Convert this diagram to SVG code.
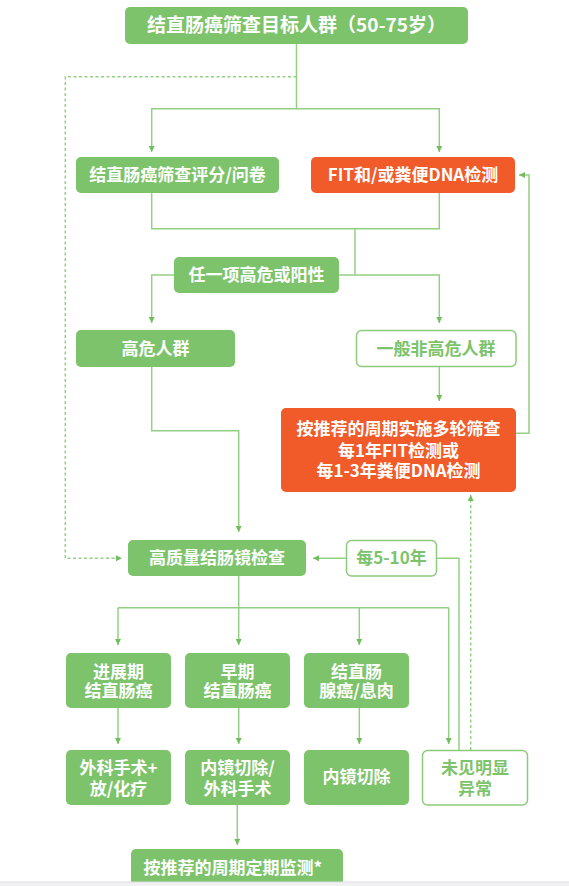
<svg xmlns="http://www.w3.org/2000/svg" width="569" height="886" viewBox="0 0 569 886">
<defs>
<style>
.g{fill:#7DC36B;}
.o{fill:#F15A29;}
.w{fill:#ffffff;stroke:#8DCB7B;stroke-width:1.5;}
.t{font-family:"Noto Sans CJK SC","Noto Sans",sans-serif;font-size:17px;font-weight:700;fill:#ffffff;text-anchor:middle;}
.tg{fill:#7DC36B;}
.big{font-size:19px;}
.c{fill:none;stroke:#93D083;stroke-width:1.5;}
.d{stroke-dasharray:3 2.5;}
</style>
<marker id="ah" markerUnits="userSpaceOnUse" markerWidth="7" markerHeight="7" refX="6" refY="3" orient="auto">
<path d="M0,0 L6,3 L0,6 z" fill="#72BE5E"/>
</marker>
</defs>
<rect width="569" height="886" fill="#ffffff"/>

<g id="connectors">
<path class="c" d="M296.5,44 V108.7 H151.7 V152" marker-end="url(#ah)"/>
<path class="c" d="M296.5,108.7 H439.3 V152" marker-end="url(#ah)"/>
<path class="c d" d="M296.5,76.7 H65.3 V558.3 H122" marker-end="url(#ah)"/>
<path class="c" d="M151.7,193 V228.7 H439.3 V193"/>
<path class="c" d="M355,228.7 V275"/>
<path class="c" d="M174,275 H151.7 V323" marker-end="url(#ah)"/>
<path class="c" d="M339,275 H439.3 V323" marker-end="url(#ah)"/>
<path class="c" d="M439.3,367 V401" marker-end="url(#ah)"/>
<path class="c" d="M516,433.3 H529 V175 H519" marker-end="url(#ah)"/>
<path class="c" d="M151.7,367 V430.7 H238.7 V532" marker-end="url(#ah)"/>
<path class="c" d="M346,558.3 H313" marker-end="url(#ah)"/>
<path class="c" d="M437,558.3 H459 V750"/>
<path class="c d" d="M470.7,750 V495" marker-end="url(#ah)"/>
<path class="c" d="M238.7,576 V607.7"/>
<path class="c" d="M118,607.7 H448.7"/>
<path class="c" d="M118,607.7 V645" marker-end="url(#ah)"/>
<path class="c" d="M238.7,607.7 V645" marker-end="url(#ah)"/>
<path class="c" d="M359.3,607.7 V645" marker-end="url(#ah)"/>
<path class="c" d="M448.7,607.7 V744" marker-end="url(#ah)"/>
<path class="c" d="M118,708 V744" marker-end="url(#ah)"/>
<path class="c" d="M238.7,708 V744" marker-end="url(#ah)"/>
<path class="c" d="M359.3,708 V744" marker-end="url(#ah)"/>
<path class="c" d="M237.3,805 V845" marker-end="url(#ah)"/>
</g>

<g id="n-target">
<rect class="g" x="125" y="7" width="343" height="37" rx="5"/>
<text class="t big" x="296.5" y="32">结直肠癌筛查目标人群（50-75岁）</text>
</g>
<g id="n-score">
<rect class="g" x="76" y="157" width="203" height="36" rx="5"/>
<text class="t" x="177.5" y="181">结直肠癌筛查评分/问卷</text>
</g>
<g id="n-fit">
<rect class="o" x="311" y="157" width="204" height="36" rx="5"/>
<text class="t" x="413" y="181">FIT和/或粪便DNA检测</text>
</g>
<g id="n-any">
<rect class="g" x="174" y="257" width="165" height="36" rx="5"/>
<text class="t" x="256.5" y="281">任一项高危或阳性</text>
</g>
<g id="n-high">
<rect class="g" x="76" y="330" width="159" height="37" rx="5"/>
<text class="t" x="155.5" y="354.5">高危人群</text>
</g>
<g id="n-general">
<rect class="w" x="356.5" y="330.5" width="159.5" height="36" rx="5"/>
<text class="t tg" x="436" y="354.5">一般非高危人群</text>
</g>
<g id="n-rounds">
<rect class="o" x="281" y="408" width="235" height="84" rx="5"/>
<text class="t" x="398.5" y="435">按推荐的周期实施多轮筛查</text>
<text class="t" x="398.5" y="456.5">每1年FIT检测或</text>
<text class="t" x="398.5" y="477">每1-3年粪便DNA检测</text>
</g>
<g id="n-colonoscopy">
<rect class="g" x="128" y="540" width="178" height="36" rx="5"/>
<text class="t" x="217" y="564">高质量结肠镜检查</text>
</g>
<g id="n-interval">
<rect class="w" x="346.5" y="540.5" width="90" height="35.5" rx="5"/>
<text class="t tg" x="391.5" y="564">每5-10年</text>
</g>
<g id="n-advanced">
<rect class="g" x="66" y="653" width="105" height="55" rx="5"/>
<text class="t" x="118.5" y="678">进展期</text>
<text class="t" x="118.5" y="697">结直肠癌</text>
</g>
<g id="n-early">
<rect class="g" x="185" y="653" width="105" height="55" rx="5"/>
<text class="t" x="237.5" y="678">早期</text>
<text class="t" x="237.5" y="697">结直肠癌</text>
</g>
<g id="n-adenoma">
<rect class="g" x="304" y="653" width="105" height="55" rx="5"/>
<text class="t" x="356.5" y="678">结直肠</text>
<text class="t" x="356.5" y="697">腺癌/息肉</text>
</g>
<g id="n-surgery">
<rect class="g" x="66" y="750" width="105" height="55" rx="5"/>
<text class="t" x="118.5" y="774">外科手术+</text>
<text class="t" x="118.5" y="794.5">放/化疗</text>
</g>
<g id="n-endo-surg">
<rect class="g" x="185" y="750" width="105" height="55" rx="5"/>
<text class="t" x="237.5" y="774">内镜切除/</text>
<text class="t" x="237.5" y="794.5">外科手术</text>
</g>
<g id="n-endo">
<rect class="g" x="304" y="750" width="105" height="55" rx="5"/>
<text class="t" x="356.5" y="783">内镜切除</text>
</g>
<g id="n-normal">
<rect class="w" x="422.5" y="750.5" width="105" height="54.5" rx="5"/>
<text class="t tg" x="475" y="774">未见明显</text>
<text class="t tg" x="475" y="794.5">异常</text>
</g>
<g id="n-monitor">
<rect class="g" x="131" y="849" width="212" height="45" rx="5"/>
<text class="t" x="143.5" y="874" style="text-anchor:start">按推荐的周期定期监测*</text>
</g>
<rect x="0" y="882" width="569" height="4" fill="#F1F1F4"/>
<line x1="0" y1="882" x2="569" y2="882" stroke="#DEDEE3" stroke-width="1"/>
</svg>
